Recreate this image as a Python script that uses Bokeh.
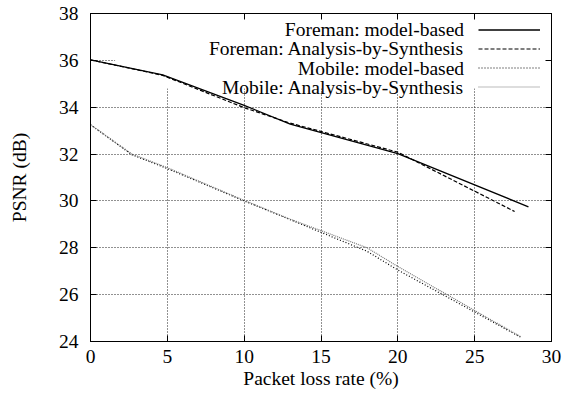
from bokeh.plotting import figure
from bokeh.models import (Range1d, LinearAxis, SingleIntervalTicker, Legend,
                          LegendItem, BoxAnnotation, Label, CustomLabelingPolicy)
from bokeh.core.properties import value
from bokeh.embed import file_html
from bokeh.resources import INLINE

# ---- data ----
loss_foreman_mb = [0, 4.7, 10, 13, 20, 28.5]
psnr_foreman_mb = [36.02, 35.38, 34.08, 33.28, 32.02, 29.75]

loss_foreman_abs = [0, 4.7, 10, 13, 20, 27.6]
psnr_foreman_abs = [36.02, 35.36, 33.98, 33.32, 32.08, 29.55]

loss_mobile_mb = [0, 2.7, 5, 10, 13, 18, 20, 28]
psnr_mobile_mb = [33.25, 31.97, 31.38, 30.0, 29.2, 27.85, 27.05, 24.18]

loss_mobile_abs = [0, 2.7, 5, 10, 13, 18, 20, 28]
psnr_mobile_abs = [33.25, 32.0, 31.42, 30.02, 29.22, 28.0, 27.2, 24.2]

series_labels = ["Foreman: model-based", "Foreman: Analysis-by-Synthesis",
                 "Mobile: model-based", "Mobile: Analysis-by-Synthesis"]
x_title = "Packet loss rate (%)"
y_title = "PSNR (dB)"

FONT = "Liberation Serif"
FS = "19.5px"

p = figure(width=566, height=394, output_backend="svg", toolbar_location=None,
           x_range=Range1d(0, 30), y_range=Range1d(24, 38),
           min_border_left=90, min_border_right=12, min_border_top=13,
           min_border_bottom=53)

p.outline_line_color = "black"
p.outline_line_width = 1

xt = SingleIntervalTicker(interval=5, num_minor_ticks=0)
yt = SingleIntervalTicker(interval=2, num_minor_ticks=0)

for ax, tk in ((p.xaxis[0], xt), (p.yaxis[0], yt)):
    ax.ticker = tk
    ax.major_tick_in = 6
    ax.major_tick_out = 0
    ax.minor_tick_line_color = None
    ax.axis_line_color = "black"
    ax.major_label_text_font = FONT
    ax.major_label_text_font_size = FS
    ax.major_label_text_color = "black"
    ax.axis_label_text_font = FONT
    ax.axis_label_text_font_size = FS
    ax.axis_label_text_font_style = "normal"
    ax.axis_label_text_color = "black"

p.xaxis[0].axis_label = x_title
p.yaxis[0].axis_label = y_title
p.xaxis[0].major_label_standoff = 8
p.xaxis[0].axis_label_standoff = 2
p.yaxis[0].major_label_standoff = 12
p.yaxis[0].axis_label_standoff = 26

# mirrored tick marks on top and right (no labels)
no_labels = CustomLabelingPolicy(code="return new Set()")
for loc, tk in (("above", xt), ("right", yt)):
    ax = LinearAxis(ticker=tk, major_tick_in=6, major_tick_out=0,
                    minor_tick_line_color=None, major_label_policy=no_labels,
                    major_label_standoff=0, axis_line_color="black")
    p.add_layout(ax, loc)

p.xgrid.ticker = xt
p.ygrid.ticker = yt
for g in (p.xgrid[0], p.ygrid[0]):
    g.grid_line_color = "#222222"
    g.grid_line_dash = "1 2"
    g.grid_line_width = 1

# key area hides the grid (as in the original)
mask = BoxAnnotation(left=1.6, bottom=34.8, fill_color="white", fill_alpha=1,
                     line_alpha=0, level="underlay")
p.add_layout(mask)

r1 = p.line(loss_foreman_mb, psnr_foreman_mb, line_color="black", line_width=1.3)
r2 = p.line(loss_foreman_abs, psnr_foreman_abs, line_color="black", line_width=1.2,
            line_dash="4 2")
r3 = p.line(loss_mobile_mb, psnr_mobile_mb, line_color="black", line_width=1.2,
            line_dash="1 2")
r4 = p.line(loss_mobile_abs, psnr_mobile_abs, line_color="#777777", line_width=1.2,
            line_dash="1 1")

# key samples (gnuplot style: text right-aligned, sample to the right)
legend = Legend(items=[LegendItem(label=value(""), renderers=[r])
                       for r in (r1, r2, r3, r4)],
                location=(388, 245), glyph_width=62, glyph_height=19,
                label_height=19, label_width=0, label_standoff=0,
                spacing=0, padding=0, margin=0,
                background_fill_alpha=0, border_line_alpha=0,
                label_text_font=FONT, label_text_font_size="10px")
p.add_layout(legend)

key_y = [37.32, 36.51, 35.65, 34.84]
for lab, yy in zip(series_labels, key_y):
    p.add_layout(Label(x=24.31, y=yy, text=lab, text_align="right",
                       text_baseline="middle", text_font=FONT,
                       text_font_size=FS, text_color="black"))

open("out.html", "w").write(file_html(p, INLINE))
